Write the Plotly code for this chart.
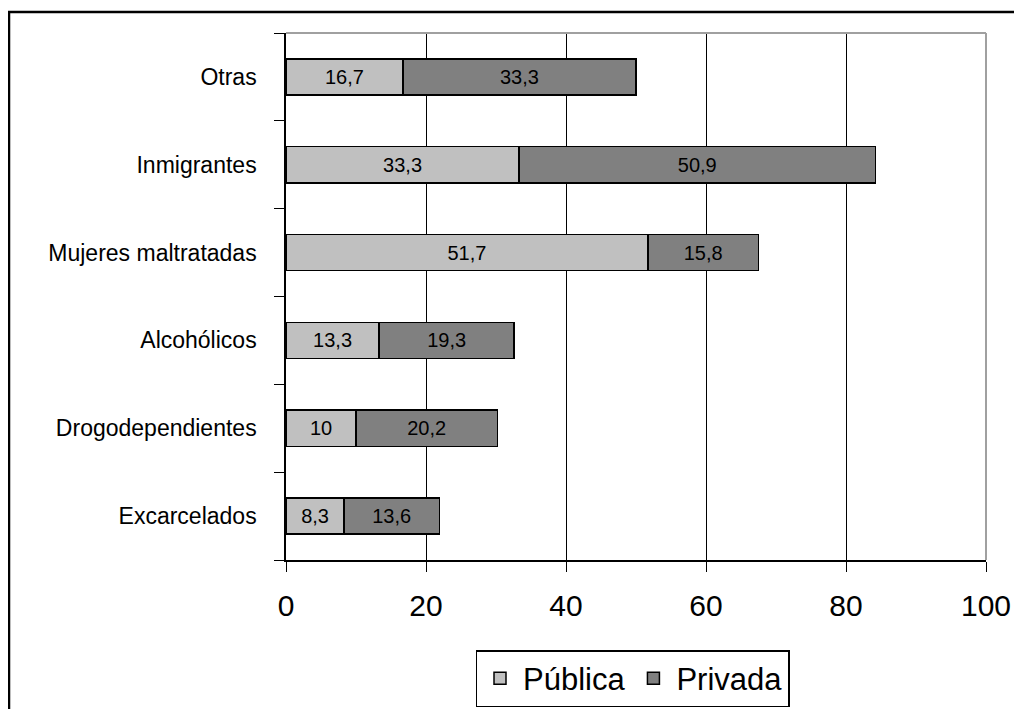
import plotly.graph_objects as go

categorias = ["Excarcelados", "Drogodependientes", "Alcohólicos",
              "Mujeres maltratadas", "Inmigrantes", "Otras"]
publica = [8.3, 10, 13.3, 51.7, 33.3, 16.7]
privada = [13.6, 20.2, 19.3, 15.8, 50.9, 33.3]
xticks = [0, 20, 40, 60, 80, 100]

def fmt(vals):
    return [f"{v:g}".replace(".", ",") for v in vals]

FONT = "Liberation Sans, Arial, sans-serif"

fig = go.Figure()
fig.add_trace(go.Bar(
    y=categorias, x=publica, orientation="h", name="Pública",
    marker=dict(color="#C0C0C0", line=dict(color="black", width=1.5)),
    text=fmt(publica), textposition="inside", insidetextanchor="middle",
    textangle=0, textfont=dict(size=20, color="black", family=FONT),
))
fig.add_trace(go.Bar(
    y=categorias, x=privada, orientation="h", name="Privada",
    marker=dict(color="#808080", line=dict(color="black", width=1.5)),
    text=fmt(privada), textposition="inside", insidetextanchor="middle",
    textangle=0, textfont=dict(size=20, color="black", family=FONT),
))

fig.update_layout(
    width=1014, height=701,
    margin=dict(l=278, r=36, t=25, b=149, autoexpand=False),
    barmode="stack", bargap=0.59,
    plot_bgcolor="white", paper_bgcolor="white",
    font=dict(family=FONT, color="black"),
    uniformtext=dict(mode="show", minsize=20),
    legend=dict(
        orientation="h", x=0.495, xanchor="center", y=-0.171, yanchor="top",
        bordercolor="black", borderwidth=1.5,
        font=dict(size=31, family=FONT), traceorder="normal",
        itemwidth=36,
    ),
    xaxis=dict(
        range=[0, 100], tickvals=xticks, ticktext=[str(t) for t in xticks],
        showgrid=True, gridcolor="black", gridwidth=1, automargin=False,
        zeroline=False, showline=True, linecolor="black", linewidth=1.5,
        ticks="outside", ticklen=10, tickcolor="black", tickwidth=1,
        ticklabelstandoff=8,
        tickfont=dict(size=30, family=FONT),
    ),
    yaxis=dict(
        showgrid=False, zeroline=False, showline=True, linecolor="black",
        linewidth=1.5, ticks="outside", ticklen=10, tickcolor="black",
        tickwidth=1, tickson="boundaries", ticklabelstandoff=23,
        automargin=False,
        tickfont=dict(size=23, family=FONT),
    ),
    shapes=[
        dict(type="line", xref="paper", yref="paper", x0=0, x1=1, y0=1, y1=1,
             line=dict(color="#A0A0A0", width=2), layer="above"),
        dict(type="line", xref="paper", yref="paper", x0=1, x1=1, y0=0, y1=1,
             line=dict(color="#A0A0A0", width=2), layer="above"),
        dict(type="rect", xref="paper", yref="paper", x0=-0.3957, x1=1.3,
             y0=-0.6, y1=1.0398, line=dict(color="black", width=2.5),
             layer="above"),
    ],
)

fig.write_html("out.html")
